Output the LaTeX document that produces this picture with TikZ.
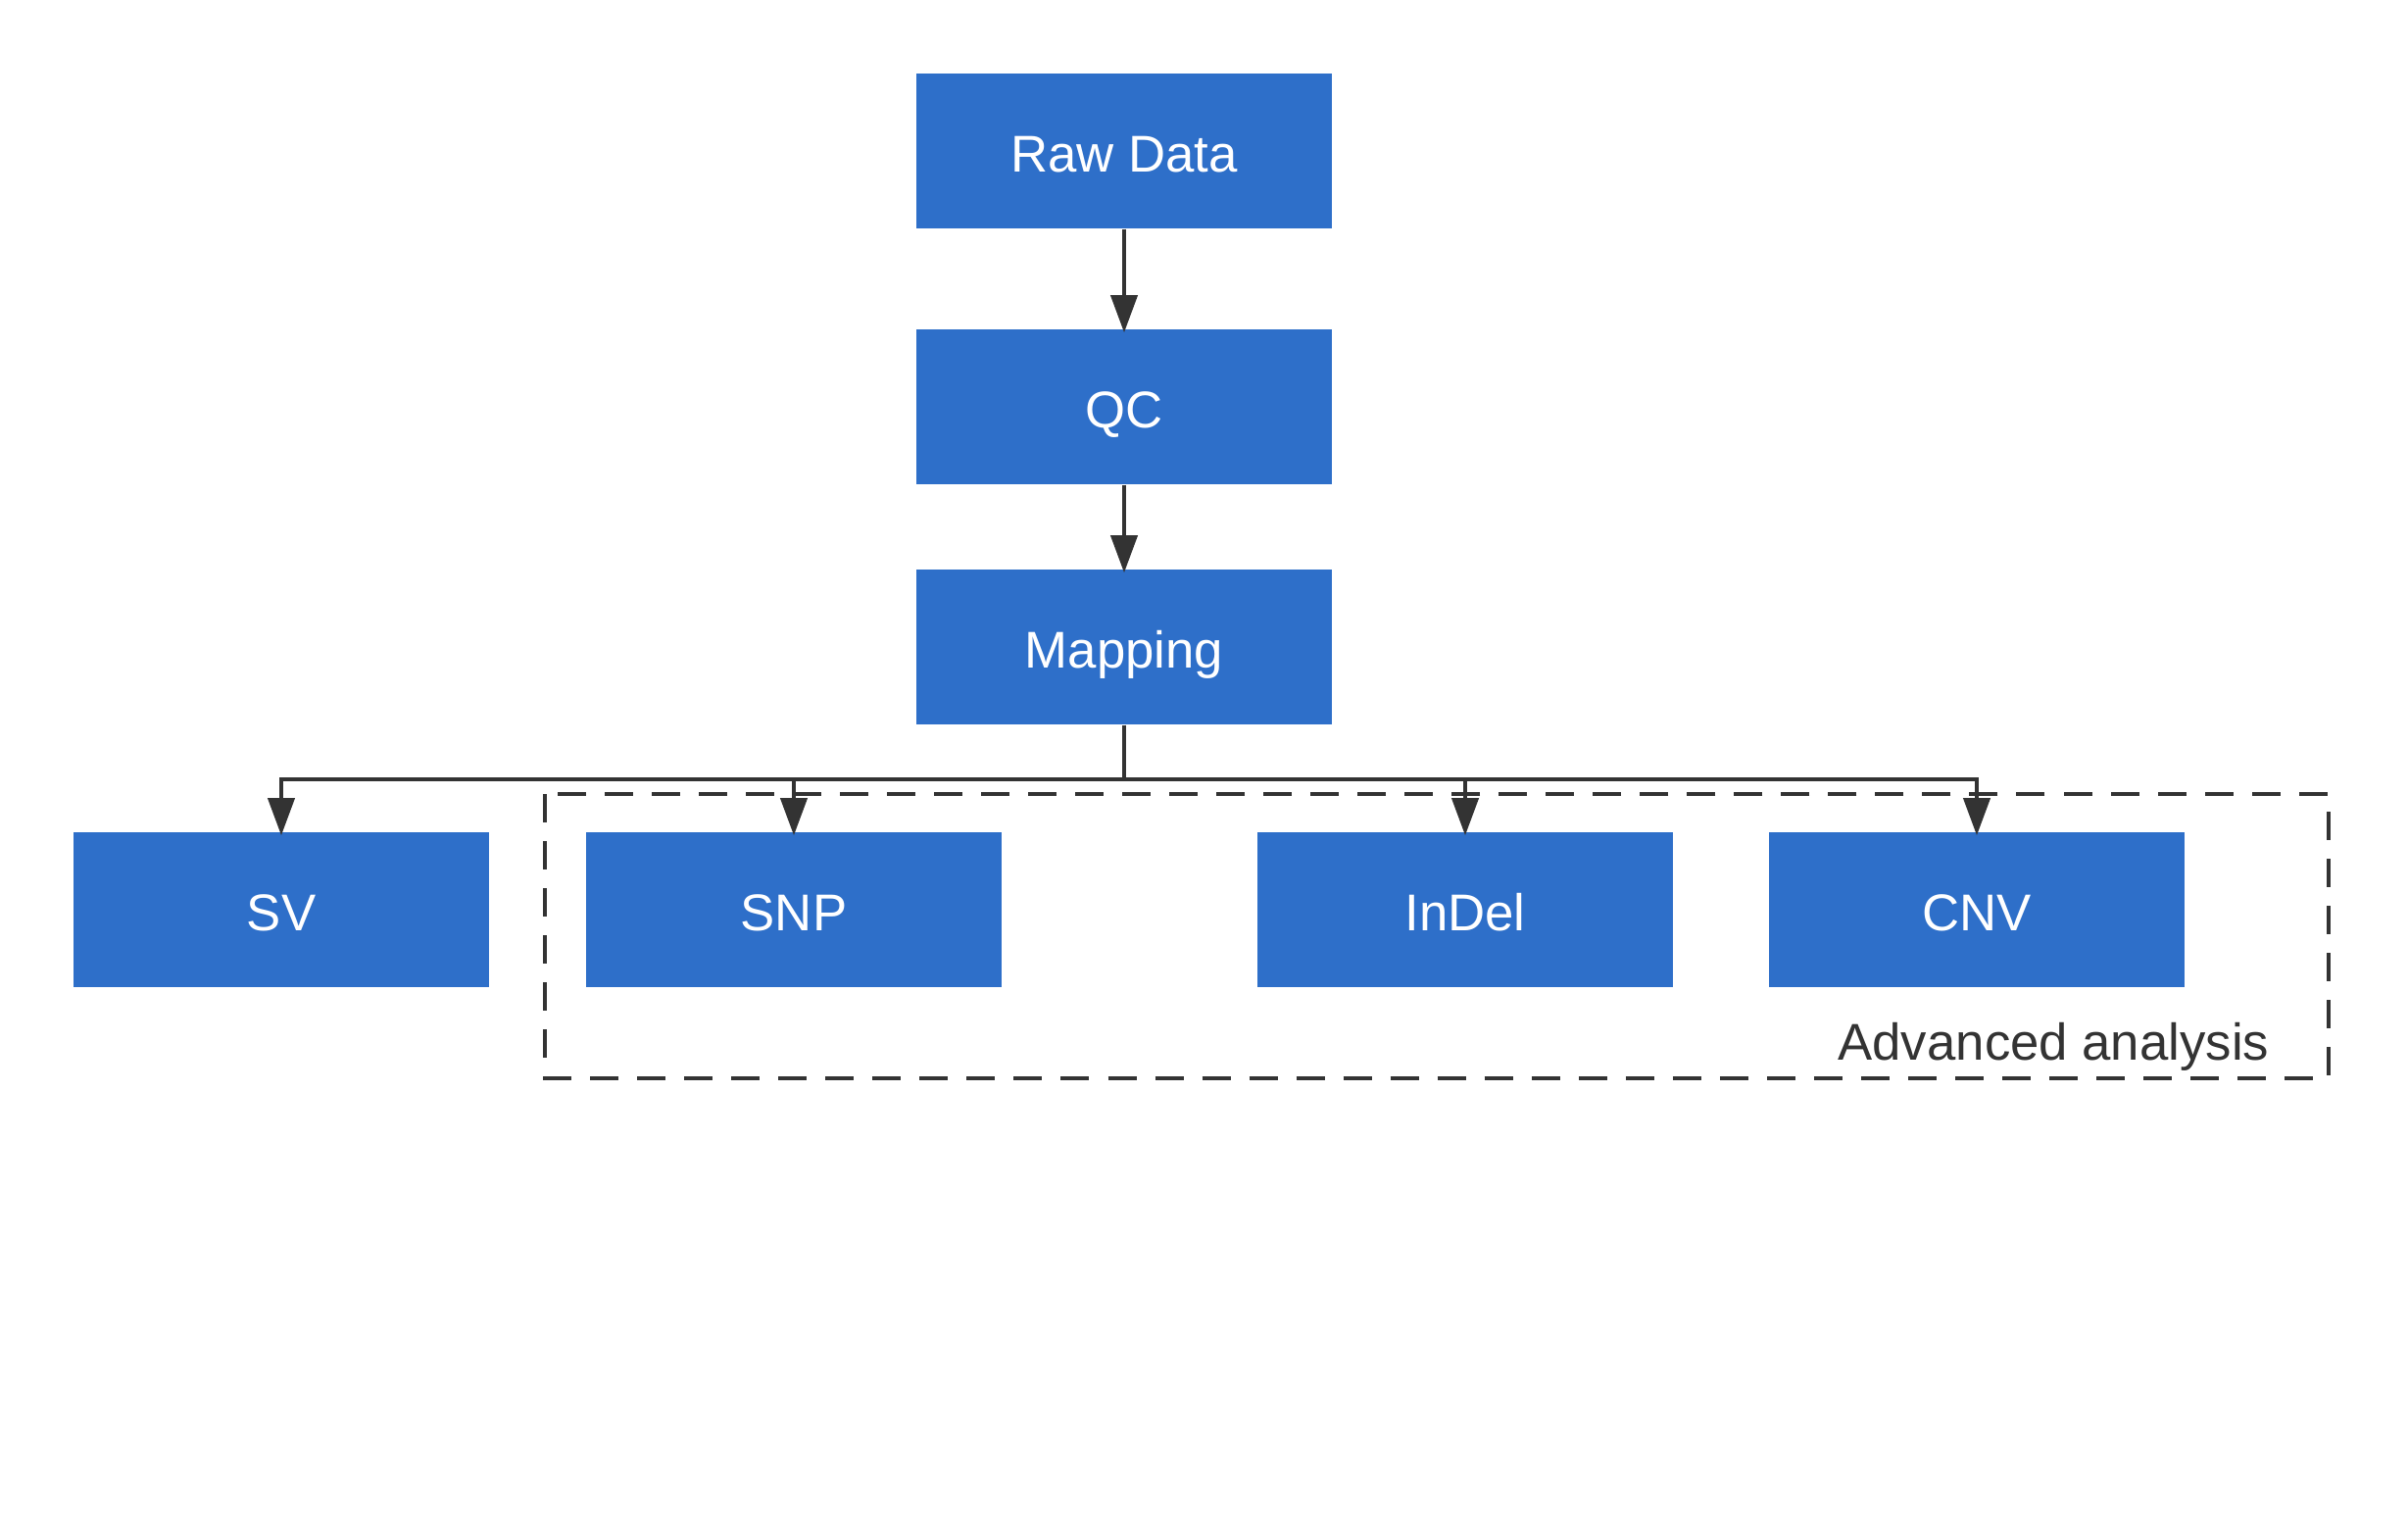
\documentclass[tikz,border=0pt]{standalone}
\usepackage{fontspec}
\setmainfont{Liberation Sans}
\usetikzlibrary{arrows.meta}
\definecolor{boxblue}{HTML}{2E6FC9}
\definecolor{linegray}{HTML}{333333}

\begin{document}
\begin{tikzpicture}[x=0.01cm, y=-0.01cm,
	every node/.style={rectangle, fill=boxblue, text=white, inner sep=0pt,
		minimum width=4.23cm, minimum height=1.58cm,
		text height=0.42cm, text depth=0pt,
		font=\fontsize{15}{18}\selectfont},
	link/.style={draw=linegray, line width=1.1pt, shorten >=-0.04cm,
		-{Triangle[length=0.38cm, width=0.27cm]}}]
	\useasboundingbox (0,0) rectangle (2457,1570);
	\node (raw)   at (1147,154) {Raw Data};
	\node (qc)    at (1147,415) {QC};
	\node (map)   at (1147,660) {Mapping};
	\node (sv)    at (287,928)  {SV};
	\node (snp)   at (810,928)  {SNP};
	\node (indel) at (1495,928) {InDel};
	\node (cnv)   at (2017,928) {CNV};
	\coordinate (bus) at (1147,795);
	% group frame
	\draw[linegray, line width=1.1pt, dash pattern=on 0.29cm off 0.19cm]
		(556,810) rectangle (2376,1100);
	\node[fill=none, text=linegray, minimum width=0pt, minimum height=0pt,
		text height=, text depth=, anchor=base east] (advlabel)
		at (2316,1081) {Advanced analysis};
	\foreach \from/\to in {raw/qc, qc/map}
	\draw[link] (\from) -- (\to);
	\foreach \to in {sv, snp, indel, cnv}
	\draw[link] (map.south) -- (bus) -| (\to.north);
\end{tikzpicture}
\end{document}
